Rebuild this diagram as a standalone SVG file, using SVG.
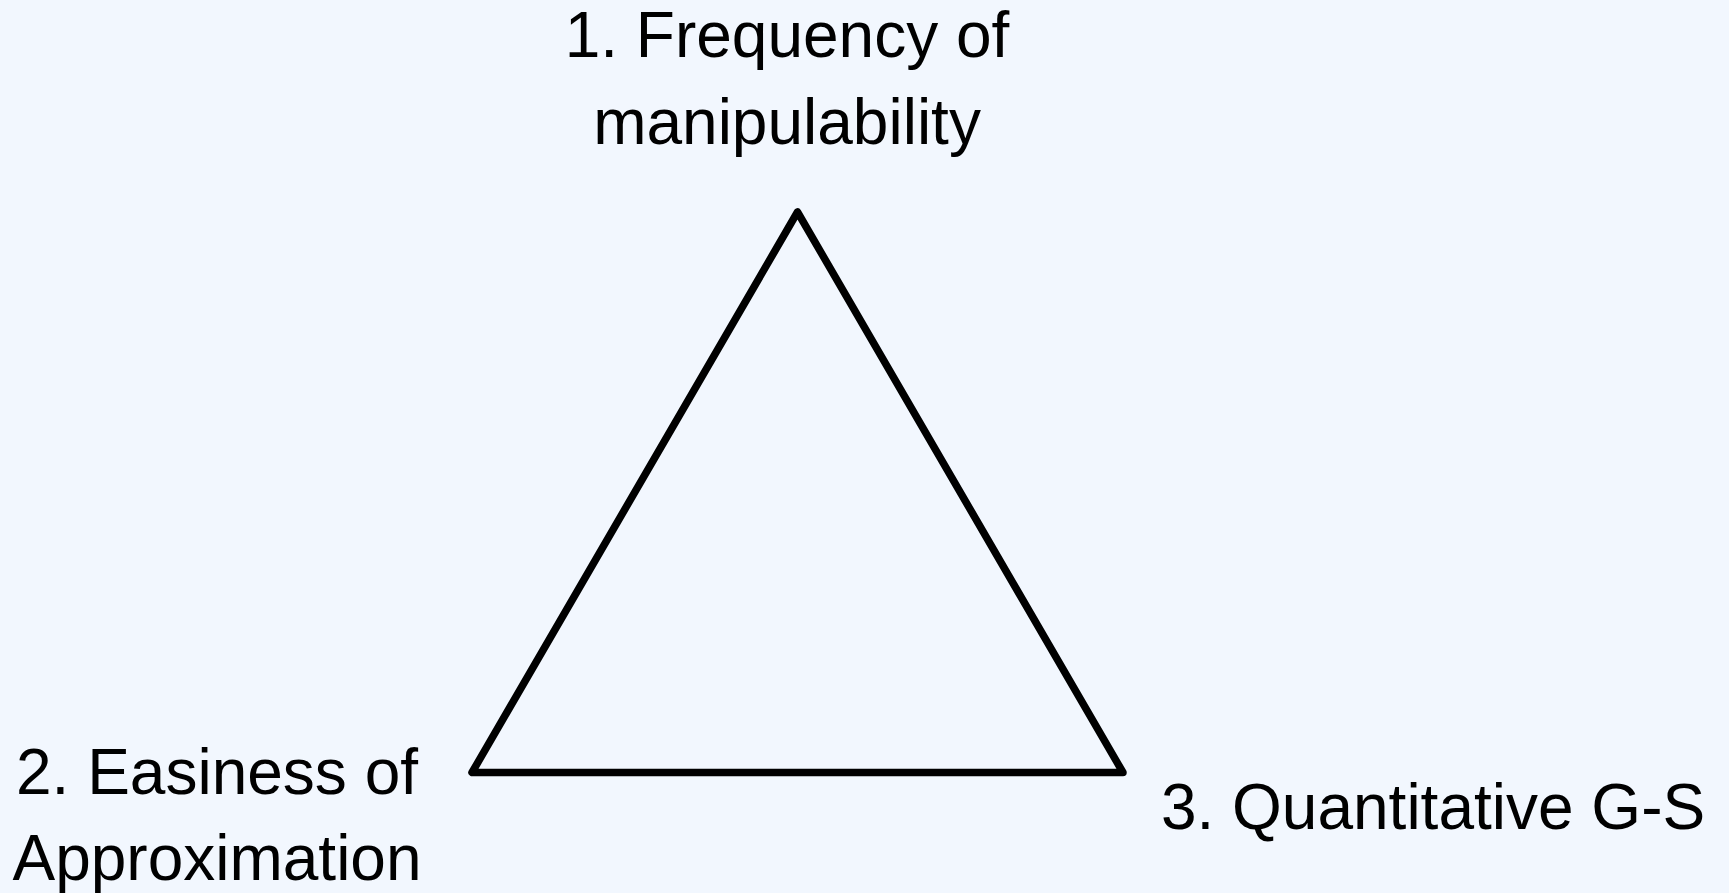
<svg xmlns="http://www.w3.org/2000/svg" width="1729" height="893" viewBox="0 0 1729 893">
<style>
.lbl{font-family:"Liberation Sans",Arial,sans-serif;font-size:64px;fill:#000;text-anchor:middle}
.edge{fill:none;stroke:#000;stroke-width:7.5;stroke-linejoin:round;stroke-linecap:round}
</style>
<rect width="1729" height="893" fill="#f2f7fe"/>
<g id="connectors">
<path class="edge" d="M797.5,212 L472,772.5 L1123,772.5 Z"/>
</g>
<g id="node1">
<text class="lbl" x="787" y="57">1. Frequency of</text>
<text class="lbl" x="787" y="144">manipulability</text>
</g>
<g id="node2">
<text class="lbl" x="217" y="794">2. Easiness of</text>
<text class="lbl" x="217" y="880">Approximation</text>
</g>
<g id="node3">
<text class="lbl" x="1433" y="829">3. Quantitative G-S</text>
</g>
</svg>
